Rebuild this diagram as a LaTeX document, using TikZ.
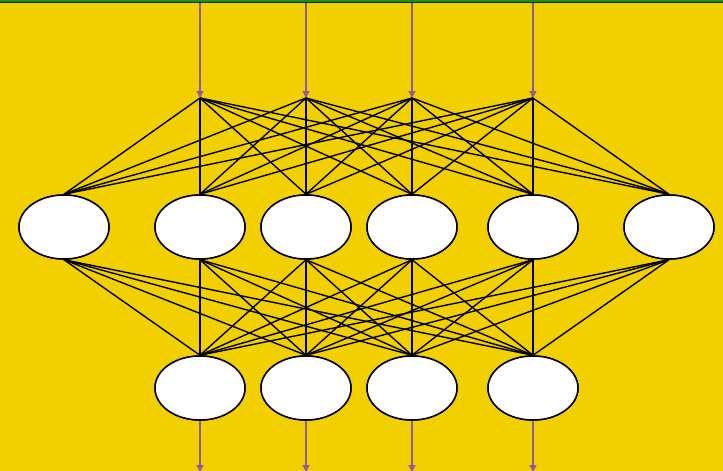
\documentclass[tikz,border=0pt]{standalone}
\usetikzlibrary{shapes.geometric,arrows.meta}
\definecolor{bg}{HTML}{F2D000}
\definecolor{arr}{HTML}{8E5AA0}
\definecolor{topgreen}{HTML}{1E8C1E}
\tikzset{
  neuron/.style={ellipse, draw=black, line width=1.5pt, fill=white, minimum width=90pt, minimum height=64pt, inner sep=0pt},
  link/.style={draw=black, line width=1.4pt},
  feed/.style={draw=arr, line width=1.4pt, -{Triangle[length=7pt,width=7pt]}}
}
\begin{document}
\begin{tikzpicture}[x=1pt,y=-1pt]
\fill[bg] (0,0) rectangle (723,471);
\useasboundingbox (0,0) rectangle (723,471);
\draw[black!80!green, line width=3pt] (0,1.3) -- (723,1.3);
\draw[topgreen, line width=1.4pt] (0,1.1) -- (723,1.1);
% input points
\foreach \i/\x in {1/200,2/306,3/412,4/533} {
  \coordinate (t\i) at (\x,98);
  \coordinate (s\i) at (\x,3);
}
% middle layer
\foreach \i/\x in {1/64,2/200,3/306,4/412,5/533,6/669} {
  \node[neuron] (m\i) at (\x,227) {};
}
% output layer
\foreach \i/\x in {1/200,2/306,3/412,4/533} {
  \node[neuron] (b\i) at (\x,388) {};
  \coordinate (e\i) at (\x,472);
}
\foreach \i in {1,...,4} {
  \foreach \j in {1,...,6} {
    \draw[link] (t\i) -- (m\j.north);
  }
}
\foreach \j in {1,...,6} {
  \foreach \i in {1,...,4} {
    \draw[link] (m\j.south) -- (b\i.north);
  }
}
% redraw nodes on top
\foreach \i/\x in {1/64,2/200,3/306,4/412,5/533,6/669} {
  \node[neuron] at (\x,227) {};
}
\foreach \i/\x in {1/200,2/306,3/412,4/533} {
  \node[neuron] at (\x,388) {};
}
\foreach \i in {1,...,4} {
  \draw[feed] (s\i) -- (t\i);
  \draw[feed] (b\i.south) -- (e\i);
}
\end{tikzpicture}
\end{document}
